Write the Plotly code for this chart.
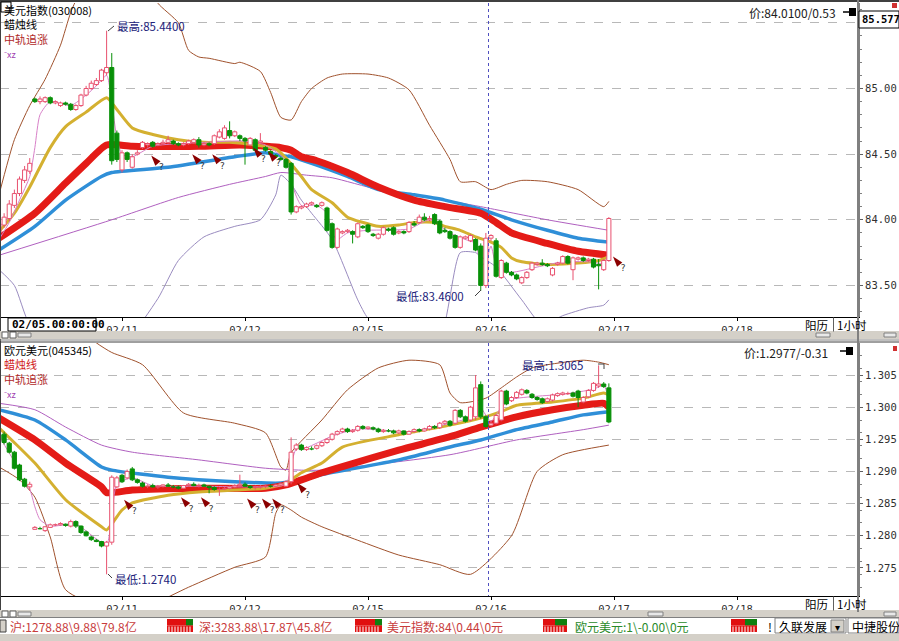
import plotly.graph_objects as go

W, H = 899, 641
PW = 858  # width of the plotting area in px (right axis at x=858)


def px(x):
    return x / PW


def py(y):
    return 1 - y / H


# ---------------- axis ticks ----------------
tick_pos = [24, 48, 72, 96, 120, 144]
tick_txt = ['02/11', '02/12', '02/15', '02/16', '02/17', '02/18']

# ---------------- 美元指数 hourly candles (index 0 = 02/10 00:00) ----------------
usd_open = [83.90, 83.96, 84.01, 84.11, 84.20, 84.30, 84.37, 84.92, 84.90, 84.90,
            84.93, 84.89, 84.87, 84.89, 84.88, 84.84, 84.87, 84.95, 85.00, 85.03,
            85.06, 85.12, 85.16, 84.66, 84.38, 84.51, 84.40, 84.50, 84.55, 84.57,
            84.59, 84.57, 84.58, 84.59, 84.60, 84.58, 84.57, 84.58, 84.59, 84.61,
            84.57, 84.58, 84.58, 84.63, 84.62, 84.68, 84.64, 84.64, 84.62, 84.57,
            84.61, 84.59, 84.55, 84.52, 84.49, 84.47, 84.46, 84.43, 84.06, 84.09,
            84.10, 84.12, 84.11, 84.11, 84.09, 83.97, 83.79, 83.90, 83.91, 83.91,
            83.87, 83.95, 83.96, 83.89, 83.86, 83.89, 83.93, 83.94, 83.90, 83.91,
            83.91, 83.97, 83.98, 84.02, 84.00, 84.04, 83.99, 83.92, 83.91, 83.88,
            83.79, 83.86, 83.84, 83.85, 83.80, 83.50, 83.86, 83.84, 83.56, 83.67,
            83.60, 83.58, 83.52, 83.56, 83.62, 83.66, 83.67, 83.66, 83.58, 83.66,
            83.67, 83.72, 83.62, 83.70, 83.71, 83.69, 83.70, 83.66, 83.62, 83.69]
usd_high = [84.00, 84.05, 84.15, 84.23, 84.33, 84.41, 84.47, 84.93, 84.94, 84.94,
            84.94, 84.91, 84.90, 84.90, 84.89, 84.88, 84.96, 85.02, 85.06, 85.08,
            85.15, 85.44, 85.27, 84.68, 84.53, 84.52, 84.50, 84.53, 84.60, 84.59,
            84.60, 84.59, 84.61, 84.64, 84.61, 84.59, 84.59, 84.61, 84.62, 84.63,
            84.59, 84.59, 84.65, 84.69, 84.72, 84.75, 84.68, 84.65, 84.63, 84.63,
            84.62, 84.66, 84.56, 84.53, 84.50, 84.48, 84.47, 84.44, 84.11, 84.11,
            84.13, 84.14, 84.12, 84.14, 84.10, 83.98, 83.94, 83.92, 83.93, 83.92,
            83.98, 83.96, 83.97, 83.90, 83.90, 83.95, 83.94, 83.95, 83.92, 83.92,
            83.99, 83.99, 84.04, 84.05, 84.03, 84.05, 84.00, 83.94, 83.92, 83.89,
            83.88, 83.88, 83.89, 83.86, 83.82, 83.90, 83.89, 83.86, 83.70, 83.68,
            83.61, 83.59, 83.57, 83.61, 83.68, 83.68, 83.70, 83.67, 83.64, 83.68,
            83.73, 83.73, 83.72, 83.72, 83.72, 83.71, 83.71, 83.70, 83.70, 84.02]
usd_low = [83.88, 83.94, 83.99, 84.09, 84.18, 84.28, 84.35, 84.89, 84.88, 84.89,
           84.88, 84.88, 84.86, 84.87, 84.83, 84.83, 84.86, 84.94, 84.99, 85.02,
           85.05, 85.10, 84.42, 84.44, 84.36, 84.44, 84.39, 84.49, 84.54, 84.55,
           84.55, 84.56, 84.57, 84.58, 84.57, 84.56, 84.56, 84.57, 84.58, 84.55,
           84.56, 84.56, 84.57, 84.62, 84.61, 84.62, 84.63, 84.60, 84.42, 84.56,
           84.52, 84.58, 84.52, 84.49, 84.47, 84.45, 84.39, 84.04, 84.05, 84.08,
           84.09, 84.11, 84.09, 84.10, 83.91, 83.78, 83.78, 83.89, 83.90, 83.82,
           83.86, 83.93, 83.90, 83.87, 83.85, 83.88, 83.91, 83.88, 83.89, 83.89,
           83.90, 83.95, 83.97, 83.99, 83.99, 83.96, 83.89, 83.90, 83.85, 83.78,
           83.78, 83.85, 83.83, 83.76, 83.46, 83.48, 83.84, 83.56, 83.55, 83.59,
           83.57, 83.54, 83.51, 83.55, 83.61, 83.65, 83.65, 83.64, 83.57, 83.65,
           83.66, 83.66, 83.54, 83.69, 83.68, 83.68, 83.63, 83.47, 83.61, 83.68]
usd_close = [83.97, 84.02, 84.12, 84.20, 84.31, 84.38, 84.43, 84.90, 84.92, 84.93,
             84.89, 84.90, 84.89, 84.88, 84.84, 84.87, 84.95, 85.00, 85.04, 85.06,
             85.14, 85.16, 84.45, 84.46, 84.51, 84.46, 84.48, 84.51, 84.59, 84.58,
             84.56, 84.58, 84.59, 84.61, 84.58, 84.57, 84.58, 84.60, 84.61, 84.57,
             84.58, 84.57, 84.64, 84.67, 84.70, 84.64, 84.67, 84.62, 84.60, 84.62,
             84.53, 84.60, 84.53, 84.50, 84.48, 84.46, 84.40, 84.06, 84.10, 84.10,
             84.12, 84.13, 84.10, 84.13, 83.92, 83.79, 83.93, 83.91, 83.92, 83.89,
             83.97, 83.94, 83.91, 83.88, 83.89, 83.94, 83.92, 83.89, 83.91, 83.90,
             83.98, 83.96, 84.02, 84.00, 84.01, 83.97, 83.90, 83.91, 83.86, 83.79,
             83.87, 83.87, 83.88, 83.77, 83.50, 83.86, 83.88, 83.57, 83.69, 83.60,
             83.58, 83.55, 83.56, 83.60, 83.67, 83.67, 83.66, 83.65, 83.63, 83.67,
             83.72, 83.67, 83.71, 83.71, 83.69, 83.70, 83.64, 83.65, 83.69, 84.01]

# indicator lines (read at sampled bar positions)
usd_up_x = [0, 3, 6, 9, 12, 14, 16, 20, 25, 30, 31, 35, 37, 39, 41, 46, 47, 51, 53, 55,
            57, 59, 61, 64, 67, 72, 76, 80, 84, 88, 90, 93, 96, 99, 102, 107, 113, 118, 119]
usd_up_v = [84.19, 84.61, 84.87, 85.07, 85.33, 85.58, 85.75, 85.95, 86.00, 85.75, 85.65,
            85.50, 85.29, 85.24, 85.23, 85.19, 85.20, 85.13, 84.97, 84.78, 84.76, 84.90,
            85.00, 85.08, 85.11, 85.11, 85.08, 84.99, 84.72, 84.46, 84.29, 84.29, 84.23,
            84.27, 84.30, 84.29, 84.23, 84.10, 84.14]
usd_lo_x = [0, 3, 6, 12, 25, 31, 35, 40, 46, 51, 54, 55, 57, 59, 61, 65, 70, 72, 80, 86,
            90, 93, 94, 97, 102, 106, 110, 115, 118, 119]
usd_lo_v = [83.62, 83.50, 83.20, 83.00, 83.10, 83.40, 83.69, 83.87, 83.95, 84.00, 84.19,
            84.34, 84.27, 84.15, 84.05, 83.85, 83.39, 83.25, 83.00, 83.10, 83.75, 83.75,
            83.72, 83.64, 83.39, 83.20, 83.27, 83.33, 83.35, 83.39]
usd_mid_x = [0, 22, 35, 45, 52, 55, 60, 65, 74, 84, 94, 107, 119]
usd_mid_v = [83.73, 84.00, 84.17, 84.27, 84.33, 84.36, 84.34, 84.32, 84.23, 84.17, 84.10,
             84.00, 83.92]
usd_blue_x = [0, 7, 13, 20, 22, 33, 46, 52, 55, 57, 61, 68, 74, 81, 87, 94, 100, 107, 113, 119]
usd_blue_v = [83.77, 83.95, 84.15, 84.33, 84.36, 84.40, 84.48, 84.51, 84.49, 84.48, 84.43,
              84.33, 84.23, 84.19, 84.15, 84.08, 84.00, 83.92, 83.86, 83.83]
usd_red_x = [0, 7, 13, 17, 21, 26, 39, 47, 52, 55, 57, 59, 62, 68, 74, 81, 87, 94, 97, 100,
             107, 113, 119]
usd_red_v = [83.86, 84.05, 84.28, 84.43, 84.57, 84.56, 84.56, 84.57, 84.56, 84.55, 84.53,
             84.48, 84.45, 84.36, 84.25, 84.15, 84.10, 84.05, 83.98, 83.90, 83.82, 83.76, 83.73]
usd_gold_x = [0, 3, 6, 10, 13, 17, 21, 23, 26, 30, 35, 40, 45, 50, 54, 56, 59, 61, 65, 68,
              71, 74, 78, 81, 85, 87, 90, 93, 96, 98, 100, 102, 107, 113, 117, 119]
usd_gold_v = [83.91, 84.05, 84.25, 84.55, 84.71, 84.82, 84.93, 84.84, 84.70, 84.65, 84.61,
              84.59, 84.59, 84.57, 84.54, 84.47, 84.33, 84.23, 84.13, 84.02, 83.98, 83.95,
              83.96, 83.98, 83.98, 83.95, 83.92, 83.87, 83.83, 83.79, 83.71, 83.68, 83.66,
              83.67, 83.69, 83.72]
usd_xz_x = [0, 2, 4, 6, 7, 8, 10, 14, 17, 19, 21, 22, 23, 24, 26, 30, 40, 48, 52, 55, 56,
            57, 58, 59, 62, 64, 65, 66, 68, 72, 80, 84, 88, 91, 93, 94, 95, 96, 97, 98, 100,
            105, 110, 115, 118, 119]
usd_xz_v = [83.85, 83.98, 84.15, 84.33, 84.55, 84.80, 84.90, 84.87, 84.95, 85.02, 85.10,
            84.90, 84.62, 84.50, 84.48, 84.56, 84.59, 84.60, 84.57, 84.49, 84.45, 84.30, 84.18,
            84.11, 84.11, 84.05, 83.90, 83.85, 83.90, 83.92, 83.93, 84.00, 83.90, 83.85, 83.82,
            83.65, 83.68, 83.80, 83.65, 83.62, 83.60, 83.64, 83.68, 83.68, 83.67, 83.75]
usd_sig_x = [29.7, 37.7, 41.6, 49.6, 52.5, 119.8]
usd_sig_v = [84.49, 84.50, 84.50, 84.55, 84.52, 83.72]

# ---------------- 欧元美元 hourly candles ----------------
eur_open = [1.2957, 1.2958, 1.2944, 1.2930, 1.2910, 1.2888, 1.2876, 1.2810, 1.2812, 1.2808,
            1.2813, 1.2817, 1.2817, 1.2818, 1.2815, 1.2822, 1.2815, 1.2806, 1.2798, 1.2793,
            1.2791, 1.2784, 1.2790, 1.2876, 1.2894, 1.2890, 1.2904, 1.2887, 1.2882, 1.2877,
            1.2878, 1.2876, 1.2877, 1.2879, 1.2877, 1.2876, 1.2874, 1.2878, 1.2880, 1.2878,
            1.2879, 1.2877, 1.2875, 1.2872, 1.2873, 1.2874, 1.2876, 1.2878, 1.2880, 1.2877,
            1.2875, 1.2876, 1.2877, 1.2878, 1.2877, 1.2879, 1.2877, 1.2884, 1.2935, 1.2941,
            1.2934, 1.2936, 1.2936, 1.2940, 1.2945, 1.2950, 1.2958, 1.2962, 1.2966, 1.2962,
            1.2964, 1.2970, 1.2967, 1.2968, 1.2966, 1.2962, 1.2964, 1.2963, 1.2960, 1.2963,
            1.2958, 1.2962, 1.2965, 1.2963, 1.2966, 1.2970, 1.2968, 1.2975, 1.2978, 1.2975,
            1.2995, 1.2985, 1.2980, 1.2985, 1.3035, 1.2985, 1.2972, 1.2975, 1.2980, 1.3025,
            1.3010, 1.3015, 1.3020, 1.3026, 1.3020, 1.3015, 1.3013, 1.3009, 1.3011, 1.3018,
            1.3020, 1.3021, 1.3022, 1.3025, 1.3008, 1.3016, 1.3026, 1.3033, 1.3036, 1.3030]
eur_high = [1.2960, 1.2962, 1.2946, 1.2932, 1.2912, 1.2890, 1.2884, 1.2815, 1.2814, 1.2815,
            1.2819, 1.2819, 1.2821, 1.2819, 1.2825, 1.2824, 1.2816, 1.2808, 1.2800, 1.2795,
            1.2792, 1.2792, 1.2894, 1.2893, 1.2896, 1.2903, 1.2907, 1.2889, 1.2884, 1.2880,
            1.2881, 1.2879, 1.2880, 1.2882, 1.2879, 1.2878, 1.2879, 1.2882, 1.2883, 1.2881,
            1.2881, 1.2878, 1.2877, 1.2875, 1.2876, 1.2878, 1.2880, 1.2895, 1.2883, 1.2879,
            1.2878, 1.2879, 1.2880, 1.2880, 1.2881, 1.2883, 1.2886, 1.2953, 1.2944, 1.2943,
            1.2939, 1.2939, 1.2942, 1.2947, 1.2952, 1.2960, 1.2964, 1.2968, 1.2968, 1.2966,
            1.2972, 1.2972, 1.2970, 1.2970, 1.2968, 1.2966, 1.2966, 1.2965, 1.2965, 1.2964,
            1.2964, 1.2967, 1.2967, 1.2968, 1.2972, 1.2972, 1.2977, 1.2980, 1.2980, 1.2997,
            1.2997, 1.2987, 1.3002, 1.3050, 1.3040, 1.2987, 1.2977, 1.2989, 1.3027, 1.3027,
            1.3017, 1.3025, 1.3029, 1.3028, 1.3022, 1.3017, 1.3015, 1.3015, 1.3021, 1.3023,
            1.3024, 1.3024, 1.3024, 1.3027, 1.3017, 1.3028, 1.3039, 1.3065, 1.3039, 1.3037]
eur_low = [1.2946, 1.2942, 1.2928, 1.2903, 1.2885, 1.2875, 1.2870, 1.2809, 1.2810, 1.2806,
           1.2812, 1.2815, 1.2816, 1.2814, 1.2813, 1.2812, 1.2803, 1.2799, 1.2792, 1.2790,
           1.2782, 1.2740, 1.2786, 1.2874, 1.2882, 1.2888, 1.2885, 1.2881, 1.2875, 1.2874,
           1.2875, 1.2873, 1.2875, 1.2876, 1.2874, 1.2872, 1.2873, 1.2876, 1.2877, 1.2875,
           1.2876, 1.2866, 1.2870, 1.2862, 1.2871, 1.2872, 1.2874, 1.2876, 1.2876, 1.2873,
           1.2872, 1.2873, 1.2874, 1.2875, 1.2875, 1.2877, 1.2876, 1.2880, 1.2932, 1.2932,
           1.2932, 1.2933, 1.2934, 1.2938, 1.2943, 1.2948, 1.2956, 1.2960, 1.2960, 1.2960,
           1.2962, 1.2965, 1.2965, 1.2964, 1.2960, 1.2960, 1.2961, 1.2958, 1.2958, 1.2956,
           1.2957, 1.2960, 1.2961, 1.2962, 1.2964, 1.2966, 1.2966, 1.2973, 1.2970, 1.2973,
           1.2983, 1.2976, 1.2978, 1.2980, 1.2982, 1.2968, 1.2970, 1.2973, 1.2978, 1.3003,
           1.3008, 1.3013, 1.3018, 1.3020, 1.3013, 1.3010, 1.3005, 1.3007, 1.3009, 1.3016,
           1.3018, 1.3019, 1.3015, 1.3000, 1.3006, 1.3014, 1.3024, 1.3030, 1.3030, 1.2975]
eur_close = [1.2950, 1.2945, 1.2930, 1.2905, 1.2887, 1.2877, 1.2880, 1.2813, 1.2811, 1.2814,
             1.2817, 1.2818, 1.2819, 1.2816, 1.2822, 1.2815, 1.2805, 1.2800, 1.2794, 1.2791,
             1.2784, 1.2790, 1.2891, 1.2890, 1.2884, 1.2900, 1.2887, 1.2883, 1.2877, 1.2878,
             1.2876, 1.2877, 1.2879, 1.2877, 1.2876, 1.2874, 1.2878, 1.2880, 1.2878, 1.2879,
             1.2877, 1.2875, 1.2872, 1.2873, 1.2874, 1.2876, 1.2878, 1.2880, 1.2877, 1.2875,
             1.2876, 1.2877, 1.2878, 1.2877, 1.2879, 1.2881, 1.2884, 1.2930, 1.2941, 1.2934,
             1.2937, 1.2935, 1.2940, 1.2945, 1.2950, 1.2958, 1.2962, 1.2966, 1.2962, 1.2964,
             1.2970, 1.2967, 1.2969, 1.2966, 1.2962, 1.2964, 1.2963, 1.2960, 1.2963, 1.2958,
             1.2962, 1.2965, 1.2963, 1.2966, 1.2970, 1.2968, 1.2975, 1.2978, 1.2972, 1.2995,
             1.2985, 1.2978, 1.3000, 1.3030, 1.2985, 1.2970, 1.2975, 1.2987, 1.3025, 1.3005,
             1.3015, 1.3023, 1.3027, 1.3022, 1.3015, 1.3012, 1.3007, 1.3013, 1.3019, 1.3021,
             1.3022, 1.3022, 1.3017, 1.3015, 1.3015, 1.3026, 1.3037, 1.3036, 1.3032, 1.2977]

eur_up_x = [0, 10, 19, 22, 28, 36, 46, 52, 55, 56, 57, 63, 68, 74, 80, 86, 88, 90, 95, 98,
            101, 104, 107, 114, 117, 119]
eur_up_v = [1.3140, 1.3160, 1.3100, 1.3085, 1.3066, 1.2991, 1.2975, 1.2960, 1.2907, 1.2902,
            1.2929, 1.2980, 1.3027, 1.3061, 1.3073, 1.3066, 1.3022, 1.3007, 1.3014, 1.3030,
            1.3047, 1.3061, 1.3066, 1.3073, 1.3070, 1.3066]
eur_lo_x = [0, 4, 7, 10, 13, 20, 30, 37, 46, 52, 54, 55, 57, 59, 63, 70, 78, 86, 92, 100,
            105, 110, 119]
eur_lo_v = [1.2907, 1.2887, 1.2860, 1.2798, 1.2716, 1.2690, 1.2695, 1.2720, 1.2751, 1.2767,
            1.2835, 1.2848, 1.2840, 1.2829, 1.2814, 1.2793, 1.2770, 1.2755, 1.2740, 1.2800,
            1.2900, 1.2926, 1.2941]
eur_mid_x = [0, 7, 13, 20, 26, 39, 52, 59, 63, 88, 101, 114, 119]
eur_mid_v = [1.3006, 1.2996, 1.2969, 1.2941, 1.2930, 1.2918, 1.2905, 1.2902, 1.2902, 1.2926,
             1.2949, 1.2965, 1.2972]
eur_blue_x = [0, 7, 13, 20, 22, 33, 46, 55, 59, 63, 78, 88, 94, 101, 108, 114, 119]
eur_blue_v = [1.2996, 1.2980, 1.2949, 1.2907, 1.2902, 1.2891, 1.2884, 1.2882, 1.2887, 1.2895,
              1.2918, 1.2938, 1.2949, 1.2965, 1.2977, 1.2988, 1.2993]
eur_red_x = [0, 7, 13, 20, 21, 26, 39, 52, 56, 63, 68, 78, 88, 94, 101, 108, 114, 118, 119]
eur_red_v = [1.2983, 1.2949, 1.2913, 1.2876, 1.2867, 1.2871, 1.2874, 1.2874, 1.2879, 1.2898,
             1.2910, 1.2933, 1.2954, 1.2969, 1.2985, 1.2996, 1.3003, 1.3006, 1.3000]
eur_gold_x = [0, 7, 13, 20, 21, 24, 26, 33, 39, 46, 52, 56, 59, 63, 67, 78, 88, 94, 98, 101,
              108, 114, 118, 119]
eur_gold_v = [1.2968, 1.2913, 1.2856, 1.2814, 1.2809, 1.2840, 1.2851, 1.2863, 1.2868, 1.2871,
              1.2874, 1.2882, 1.2898, 1.2913, 1.2938, 1.2957, 1.2972, 1.2983, 1.2993, 1.3003,
              1.3008, 1.3014, 1.3022, 1.3019]
eur_xz_x = [0, 3, 5, 6, 7, 8, 10, 15, 19, 21, 22, 23, 26, 30, 40, 50, 56, 57, 58, 60, 65,
            70, 80, 88, 92, 93, 94, 96, 98, 100, 105, 110, 116, 118, 119]
eur_xz_v = [1.2955, 1.2915, 1.2880, 1.2872, 1.2845, 1.2825, 1.2815, 1.2818, 1.2795, 1.2786,
            1.2830, 1.2880, 1.2890, 1.2878, 1.2877, 1.2876, 1.2880, 1.2910, 1.2935, 1.2937,
            1.2955, 1.2966, 1.2962, 1.2975, 1.2985, 1.3010, 1.3000, 1.2978, 1.3000, 1.3012,
            1.3017, 1.3020, 1.3028, 1.3034, 1.3010]
eur_sig_x = [24.4, 35.5, 39.4, 48.4, 51.3, 53.3, 58.2]
eur_sig_v = [1.2856, 1.2860, 1.2860, 1.2858, 1.2858, 1.2858, 1.2882]

# ---------------- colours ----------------
UP = '#e8506e'
DN = '#089008'
C_UPPER = '#a0522d'
C_LOWER = '#9a8cc0'
C_MID = '#b060c0'
C_XZ = '#d880c8'
C_BLUE = '#2f8fd8'
C_RED = '#e41b17'
C_GOLD = '#d4b030'
C_SIG = '#8b0000'

fig = go.Figure()


def add_lines(xa, ya, series):
    for xs, vs, col, wid in series:
        fig.add_trace(go.Scatter(x=xs, y=vs, mode='lines', xaxis=xa, yaxis=ya,
                                 line=dict(color=col, width=wid, shape='spline', smoothing=0.6),
                                 hoverinfo='skip', cliponaxis=True))


def add_candles(o, h, l, c, xa, ya):
    half = 0.4
    for up in (True, False):
        wx, wy, bx, by = [], [], [], []
        for i in range(len(o)):
            if (c[i] >= o[i]) != up:
                continue
            top, bot = max(o[i], c[i]), min(o[i], c[i])
            wx += [i, i, None, i, i, None]
            wy += [h[i], top, None, bot, l[i], None]
            bx += [i - half, i + half, i + half, i - half, i - half, None]
            by += [bot, bot, top, top, bot, None]
        col = UP if up else DN
        fig.add_trace(go.Scatter(x=wx, y=wy, mode='lines', xaxis=xa, yaxis=ya,
                                 line=dict(color=col, width=1), hoverinfo='skip'))
        fig.add_trace(go.Scatter(x=bx, y=by, mode='lines', xaxis=xa, yaxis=ya, fill='toself',
                                 fillcolor='white' if up else DN,
                                 line=dict(color=col, width=1), hoverinfo='skip'))


def add_signals(xs, vs, xa, ya):
    fig.add_trace(go.Scatter(x=xs, y=vs, mode='markers+text', xaxis=xa, yaxis=ya,
                             marker=dict(symbol='arrow', angle=-40, size=11, color=C_SIG),
                             text=['?'] * len(xs), textposition='bottom right',
                             textfont=dict(size=9, color='#333333', family='DejaVu Sans'),
                             hoverinfo='skip'))


add_lines('x', 'y', [(usd_up_x, usd_up_v, C_UPPER, 1), (usd_lo_x, usd_lo_v, C_LOWER, 1),
                     (usd_mid_x, usd_mid_v, C_MID, 1), (usd_blue_x, usd_blue_v, C_BLUE, 3.5),
                     (usd_red_x, usd_red_v, C_RED, 7), (usd_gold_x, usd_gold_v, C_GOLD, 3),
                     (usd_xz_x, usd_xz_v, C_XZ, 1)])
add_candles(usd_open, usd_high, usd_low, usd_close, 'x', 'y')
add_signals(usd_sig_x, usd_sig_v, 'x', 'y')

add_lines('x2', 'y2', [(eur_up_x, eur_up_v, C_UPPER, 1), (eur_lo_x, eur_lo_v, C_UPPER, 1),
                       (eur_mid_x, eur_mid_v, C_MID, 1), (eur_blue_x, eur_blue_v, C_BLUE, 3.5),
                       (eur_red_x, eur_red_v, C_RED, 7), (eur_gold_x, eur_gold_v, C_GOLD, 3),
                       (eur_xz_x, eur_xz_v, C_XZ, 1)])
add_candles(eur_open, eur_high, eur_low, eur_close, 'x2', 'y2')
add_signals(eur_sig_x, eur_sig_v, 'x2', 'y2')

# ---------------- axes ----------------
XR = [(0 + 1) / 5.125, (PW + 1) / 5.125]
TOP_Y = [85 - (317 - 88.5) / 131.3, 85 + (88.5 - 3) / 131.3]
BOT_Y = [1.305 - (596 - 375) / 6430, 1.305 + (375 - 343) / 6430]

tickfont = dict(family='DejaVu Sans Mono', size=10.5, color='#303030')
xcommon = dict(range=XR, tickmode='array', tickvals=tick_pos, ticktext=tick_txt,
               ticks='outside', ticklen=3, tickcolor='#000', showgrid=False, zeroline=False,
               showline=True, linecolor='#000', linewidth=1, tickfont=tickfont, fixedrange=True)
ycommon = dict(side='right', ticks='outside', ticklen=3, tickcolor='#606060',
               showgrid=True, gridcolor='#b8b8b8', griddash='dash', gridwidth=1,
               zeroline=False, showline=True, linecolor='#808080', linewidth=2,
               tickfont=tickfont, fixedrange=True, ticklabelstandoff=0,
               minor=dict(ticks='outside', ticklen=2, tickcolor='#808080', nticks=5, showgrid=False))

fig.update_layout(
    width=W, height=H, margin=dict(l=0, r=W - PW, t=0, b=0),
    paper_bgcolor='white', plot_bgcolor='white', showlegend=False,
    xaxis=dict(domain=[0, 1], anchor='y', **xcommon),
    yaxis=dict(domain=[py(317), py(3)], anchor='x', range=TOP_Y,
               tickvals=[83.5, 84.0, 84.5, 85.0, 85.5],
               ticktext=['83.50', '84.00', '84.50', '85.00', ''], **ycommon),
    xaxis2=dict(domain=[0, 1], anchor='y2', **xcommon),
    yaxis2=dict(domain=[py(596), py(343)], anchor='x2', range=BOT_Y,
                tickvals=[1.275, 1.280, 1.285, 1.290, 1.295, 1.300, 1.305],
                ticktext=['1.275', '1.280', '1.285', '1.290', '1.295', '1.300', '1.305'],
                **ycommon),
)

shapes = []
ann = []


def rect(x0, y0, x1, y1, fill, line=None, lw=1):
    shapes.append(dict(type='rect', xref='paper', yref='paper', x0=px(x0), x1=px(x1),
                       y0=py(y0), y1=py(y1), fillcolor=fill,
                       line=dict(color=line or fill, width=lw if line else 0), layer='above'))


def hline(x0, x1, y, col, w=1, dash='solid'):
    shapes.append(dict(type='line', xref='paper', yref='paper', x0=px(x0), x1=px(x1),
                       y0=py(y), y1=py(y), line=dict(color=col, width=w, dash=dash)))


def vline(x, y0, y1, col, w=1, dash='solid'):
    shapes.append(dict(type='line', xref='paper', yref='paper', x0=px(x), x1=px(x),
                       y0=py(y0), y1=py(y1), line=dict(color=col, width=w, dash=dash)))


def text(x, y, s, col='#000', size=12, fam='Noto Sans CJK SC', anchor='left', bold=False,
         yanchor='middle'):
    if bold:
        s = '<b>' + s + '</b>'
    ann.append(dict(xref='paper', yref='paper', x=px(x), y=py(y), text=s, showarrow=False,
                    xanchor=anchor, yanchor=yanchor, align='left',
                    font=dict(color=col, size=size, family=fam)))


FRAME = '#404040'
# outer frame
hline(0, W, 1, FRAME, 2)
vline(0.5, 0, 612, FRAME, 1)
# cursor dotted line at 02/16
for y0, y1 in [(3, 317), (343, 596)]:
    vline(488.5, y0, y1, '#5050c0', 1, 'dot')

# label rows and scroll bars
for ybar in (331, 610):
    rect(0, ybar, W, ybar + 8, '#d4d0c8')
    rect(2, ybar + 1, 8, ybar + 7, '#ffffff', '#606060')
    rect(10, ybar + 1, 16, ybar + 7, '#ffffff', '#606060')
    rect(18, ybar + 2, 31, ybar + 6, '#e8e8e8', '#808080')
    rect(884, ybar + 2, 896, ybar + 6, '#e8e8e8', '#808080')
rect(816, 333, 830, 337, '#e8e8e8', '#808080')
rect(648, 612, 663, 616, '#e8e8e8', '#808080')
hline(0, W, 340, '#808080', 1)
hline(0, W, 342, FRAME, 1)
vline(858, 0, 612, '#808080', 2)

# date cursor box
rect(8, 318, 96, 331, 'rgba(0,0,0,0)', '#000', 1)
text(10, 324.5, '02/05.00:00:00', '#000', 11, 'DejaVu Sans Mono', bold=True)
for yl in (324.5, 603.5):
    text(803, yl, '阳历', '#000', 11.5)
    vline(833.5, yl - 7, yl + 7, '#606060', 1)
    text(835, yl, '1小时', '#000', 11.5)

# top panel header (one block so the lines never collide)
rect(1, 2, 11, 12, '#ffffff', '#000', 1)
text(2, -0.5, '美元指数(030008)<br>蜡烛线<br><span style="color:#b02828">中轨追涨</span>'
     '<br><span style="color:#a040b0;font-size:9px">⁻xz</span>', '#000', 11, yanchor='top')
text(115, 26, '最高:85.4400', '#22227a', 11.5)
shapes.append(dict(type='line', xref='paper', yref='paper', x0=px(108), x1=px(114),
                   y0=py(31), y1=py(26), line=dict(color='#404040', width=1)))
text(394, 296.5, '最低:83.4600', '#22227a', 11.5)
shapes.append(dict(type='line', xref='paper', yref='paper', x0=px(475), x1=px(481),
                   y0=py(296), y1=py(290), line=dict(color='#404040', width=1)))
text(838, 12, '价:84.0100/0.53', '#202020', 12, anchor='right')
hline(843, 849, 12, '#000', 1.5)
rect(849, 8, 856, 16, '#000')
rect(859, 11, 899, 28, '#ffffff', '#000', 1)
text(860, 19.5, '85.577', '#000', 10.5, 'DejaVu Sans Mono', bold=True)
rect(892, 3, 897, 8, '#d03030')

# bottom panel header
text(2, 339.5, '欧元美元(045345)<br><span style="color:#d01818">蜡烛线</span><br>'
     '<span style="color:#b02828">中轨追涨</span><br>'
     '<span style="color:#a040b0;font-size:9px">⁻xz</span>', '#000', 11, yanchor='top')
text(520, 365, '最高:1.3065', '#22227a', 11.5)
hline(598, 604, 364, '#404040', 1)
vline(604, 364, 369, '#404040', 1)
text(113, 578.5, '最低:1.2740', '#22227a', 11.5)
shapes.append(dict(type='line', xref='paper', yref='paper', x0=px(108), x1=px(112),
                   y0=py(574), y1=py(578), line=dict(color='#404040', width=1)))
text(830, 352, '价:1.2977/-0.31', '#202020', 12, anchor='right')
hline(840, 846, 351, '#000', 1.5)
rect(846, 347, 853, 355, '#000')
rect(893, 346, 897, 351, '#d03030')

# status bar
rect(0, 618, W, 634, '#ffffff')
rect(0, 634, W, H, '#d4d0c8')
hline(0, W, 617.5, '#808080', 1)
rect(0, 620, 6, 632, '#d4d0c8', '#404040')
text(8, 626, '沪:1278.88\\9.88\\79.8亿', '#c83c3c', 12)
text(197, 626, '深:3283.88\\17.87\\45.8亿', '#c83c3c', 12)
text(385, 626, '美元指数:84\\0.44\\0元', '#c83c3c', 12)
text(573, 626, '欧元美元:1\\-0.00\\0元', '#2a8a2a', 12)


def block(x0, x1, split):
    rect(x0, 619, x1, 625.5, '#e01010')
    rect(split, 619, x1, 625.5, '#108010')
    rect(x0, 625.5, x1, 632, '#e01010')
    for k in range(int(x0) + 2, int(x1) - 1, 3):
        vline(k, 626.5, 632, '#ffffff', 1)


block(167, 193, 186)
block(355, 382, 375)
block(543, 567, 555)
block(731, 757, 745)
text(766, 626, '!', '#000', 12)
rect(775, 618, 846, 633, '#ffffff', '#808080')
text(777, 626, '久联发展', '#000', 12)
rect(831, 620, 844, 632, '#d4d0c8', '#808080')
text(833, 626, '▾', '#000', 10)
rect(848, 618, 899, 633, '#ffffff', '#808080')
text(850, 626, '中捷股份', '#000', 12)

fig.update_layout(shapes=shapes, annotations=ann)
fig.write_html('out.html', config={'displayModeBar': False},
               post_script="document.body.style.margin='0';document.body.style.padding='0';")
